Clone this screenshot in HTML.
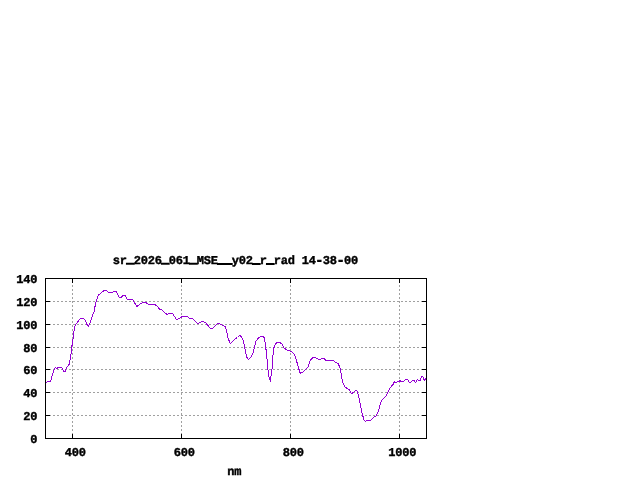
<!DOCTYPE html>
<html><head><meta charset="utf-8"><title>sr_2026_061_MSE__y02_r_rad 14-38-00</title>
<style>
html,body{margin:0;padding:0;background:#fff;}
svg{display:block;}
text{font-family:"Liberation Mono","DejaVu Sans Mono",monospace;font-weight:bold;font-size:12.0px;fill:#000;stroke:#000;stroke-width:0.4px;letter-spacing:-0.201px;}
tspan.u{stroke-width:1.5px;}
tspan.h{stroke-width:1px;}
</style></head><body>
<svg width="640" height="480" viewBox="0 0 640 480">
<rect width="640" height="480" fill="#fff"/>
<g stroke="#a0a0a0" stroke-width="1" stroke-dasharray="2 2" shape-rendering="crispEdges" fill="none">
<line x1="45" y1="415.5" x2="427" y2="415.5"/>
<line x1="45" y1="392.5" x2="427" y2="392.5"/>
<line x1="45" y1="369.5" x2="427" y2="369.5"/>
<line x1="45" y1="347.5" x2="427" y2="347.5"/>
<line x1="45" y1="324.5" x2="427" y2="324.5"/>
<line x1="45" y1="301.5" x2="427" y2="301.5"/>
<line x1="72.5" y1="439" x2="72.5" y2="278"/>
<line x1="181.5" y1="439" x2="181.5" y2="278"/>
<line x1="290.5" y1="439" x2="290.5" y2="278"/>
<line x1="399.5" y1="439" x2="399.5" y2="278"/>
</g>
<polyline fill="none" stroke="#9400d3" stroke-width="1" stroke-linejoin="round" shape-rendering="crispEdges" points="45.5,382.5 46.5,382.4 47.2,381.5 50.25,381.5 51.2,379.6 52.4,374.6 53.7,371.4 54.6,368.4 55.6,367.5 56.8,368.5 58.4,367.5 61.8,367.5 62.75,369.3 63.6,371.4 65.5,371.4 66.3,368 68.1,366.2 69,364.6 69.75,361.1 70.6,358 71.25,351.25 72.25,343.75 73.5,336.25 74.4,327.5 76.25,323.75 80,318.75 83.1,318.4 85.25,320 86.9,324.4 88.5,326.25 90.6,321.25 92.5,315.6 94.1,311.9 95.6,303.1 98.1,295.6 101.9,291.9 105,290.25 106.9,290.6 108.5,292.25 112.5,292.25 113.75,291.5 116.25,291.5 119,297.25 121.25,297.25 123.1,295.4 125,295.4 127.25,299.4 132.5,299.4 136.9,306.5 140.6,303.5 143.1,302.5 145.6,302.5 148.75,304.4 154.4,304.4 156.5,305.6 160,309.4 161.9,310 166.9,314.4 169.4,313.5 172.5,313.5 176.5,319.6 178.1,319 182.5,316.5 187.25,316.5 189.75,318.5 192.25,318.5 197.75,323.75 202.5,321.25 206,323.1 209,326.9 210.6,328.75 212.25,328.5 217.5,323.5 219.4,323.5 223.1,325.6 225.25,326.5 226.5,330 228.1,338.1 230.25,343.75 235,338.75 237.5,337.5 239.75,335.3 241.7,336.9 243.5,341.25 245,348.75 246.5,356.9 248.5,359.4 250.6,357.5 253.1,352.5 254.75,346.25 256,341.25 258.1,338.5 260.6,336.25 263.5,336.25 264.6,338.75 265.6,345.6 266.9,357.5 267.9,368.75 268.6,375.5 269.6,378.8 270.5,381.5 271.35,373 272.1,368.4 272.6,360 273.4,350.7 274.2,346.5 275.5,343.9 277.3,342.4 279.4,342.25 282.25,344 284,348.1 286.9,350 291.25,351.5 294.4,354.4 296,358.75 298.5,368.1 300.25,373.1 302.5,372.4 308.1,366.9 309.75,361.25 312.5,357.75 315,357.25 318.5,359.4 320,359.4 321.9,358.5 324.4,358.5 325.6,360.25 333.1,360.25 335.6,362.5 338.1,363.75 340.25,368.1 341.5,376.25 342.5,381.9 344.4,386.25 346.5,388.1 349.4,389.75 351.25,393.1 352.5,393.1 355.6,390.3 357.25,391.1 358.5,395.8 360.25,403.75 362.25,413.75 364,420 365.25,421.25 367.5,420.6 370.6,420.25 374.4,416.9 376.25,415.6 378.75,410 380.6,403.1 382.5,399.4 386.25,396 390,388 393.1,384.25 394.3,381.4 395,382.5 396.4,382.5 397.5,381.5 398.9,381.5 400,380.5 401.25,381.5 403.4,381.5 405.3,379.5 407.6,379.5 408.75,381.4 409.7,382.6 410.6,382.6 412.2,380.5 414.4,380.5 415.5,382.6 417.3,379.4 418.4,380.5 420.3,380.4 421.25,377.4 422.4,376.2 423.4,378 424.4,380.4 425.75,378.3"/>
<g stroke="#000" stroke-width="1" shape-rendering="crispEdges" fill="none">
<rect x="45.5" y="278.5" width="381" height="160"/>
<line x1="45" y1="438.5" x2="50" y2="438.5"/>
<line x1="422" y1="438.5" x2="427" y2="438.5"/>
<line x1="45" y1="415.5" x2="50" y2="415.5"/>
<line x1="422" y1="415.5" x2="427" y2="415.5"/>
<line x1="45" y1="392.5" x2="50" y2="392.5"/>
<line x1="422" y1="392.5" x2="427" y2="392.5"/>
<line x1="45" y1="369.5" x2="50" y2="369.5"/>
<line x1="422" y1="369.5" x2="427" y2="369.5"/>
<line x1="45" y1="347.5" x2="50" y2="347.5"/>
<line x1="422" y1="347.5" x2="427" y2="347.5"/>
<line x1="45" y1="324.5" x2="50" y2="324.5"/>
<line x1="422" y1="324.5" x2="427" y2="324.5"/>
<line x1="45" y1="301.5" x2="50" y2="301.5"/>
<line x1="422" y1="301.5" x2="427" y2="301.5"/>
<line x1="45" y1="278.5" x2="50" y2="278.5"/>
<line x1="422" y1="278.5" x2="427" y2="278.5"/>
<line x1="72.5" y1="439" x2="72.5" y2="434"/>
<line x1="72.5" y1="278" x2="72.5" y2="283"/>
<line x1="181.5" y1="439" x2="181.5" y2="434"/>
<line x1="181.5" y1="278" x2="181.5" y2="283"/>
<line x1="290.5" y1="439" x2="290.5" y2="434"/>
<line x1="290.5" y1="278" x2="290.5" y2="283"/>
<line x1="399.5" y1="439" x2="399.5" y2="434"/>
<line x1="399.5" y1="278" x2="399.5" y2="283"/>
</g>
<g transform="rotate(0.03 230 370)">
<text x="112.6" y="264.0" xml:space="preserve"><tspan dy="0.0">sr</tspan><tspan class="u" dy="-1.1">_</tspan><tspan dy="1.1">2026</tspan><tspan class="u" dy="-1.1">_</tspan><tspan dy="1.1">061</tspan><tspan class="u" dy="-1.1">_</tspan><tspan dy="1.1">MSE</tspan><tspan class="u" dy="-1.1">__</tspan><tspan dy="1.1">y02</tspan><tspan class="u" dy="-1.1">_</tspan><tspan dy="1.1">r</tspan><tspan class="u" dy="-1.1">_</tspan><tspan dy="1.1">rad 14</tspan><tspan class="h" dy="0.0">-</tspan><tspan dy="0.0">38</tspan><tspan class="h" dy="0.0">-</tspan><tspan dy="0.0">00</tspan></text>
<text x="37.3" y="443.0" text-anchor="end">0</text>
<text x="37.3" y="420.0" text-anchor="end">20</text>
<text x="37.3" y="397.0" text-anchor="end">40</text>
<text x="37.3" y="374.0" text-anchor="end">60</text>
<text x="37.3" y="352.0" text-anchor="end">80</text>
<text x="37.3" y="329.0" text-anchor="end">100</text>
<text x="37.3" y="306.0" text-anchor="end">120</text>
<text x="37.3" y="283.0" text-anchor="end">140</text>
<text x="64.7" y="456.0">400</text>
<text x="173.7" y="456.0">600</text>
<text x="282.7" y="456.0">800</text>
<text x="388.2" y="456.0">1000</text>
<text x="227.4" y="475.1">nm</text>
</g>
</svg>
</body></html>
